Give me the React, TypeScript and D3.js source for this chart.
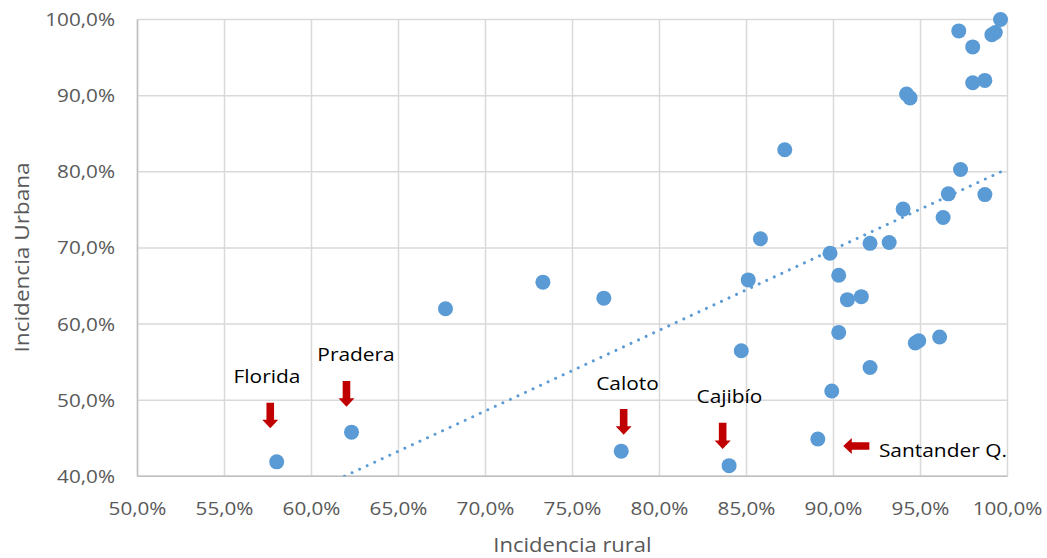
import React from "react";
import * as d3 from "d3";

// Incidencia rural (x, %) and Incidencia urbana (y, %) per municipio
const rural = [
  58.0, 62.3, 67.7, 73.3, 76.8, 77.8, 84.0, 84.7, 85.1, 85.8, 87.2, 89.1, 89.8,
  89.9, 90.3, 90.3, 90.8, 91.6, 92.1, 92.1, 93.2, 94.0, 94.2, 94.4, 94.7, 94.9,
  96.1, 96.3, 96.6, 97.2, 97.3, 98.0, 98.0, 98.7, 98.7, 99.1, 99.3, 99.6,
];
const urbana = [
  41.9, 45.8, 62.0, 65.5, 63.4, 43.3, 41.4, 56.5, 65.8, 71.2, 82.9, 44.9, 69.3,
  51.2, 66.4, 58.9, 63.2, 63.6, 70.6, 54.3, 70.7, 75.1, 90.2, 89.7, 57.5, 57.8,
  58.3, 74.0, 77.1, 98.5, 80.3, 96.4, 91.7, 92.0, 77.0, 98.0, 98.3, 100.0,
];

const xTicks = [50, 55, 60, 65, 70, 75, 80, 85, 90, 95, 100];
const yTicks = [40, 50, 60, 70, 80, 90, 100];

// Linear trendline: y = slope * x + intercept
const trendSlope = 1.06;
const trendIntercept = -25.6;

// Annotations (data coordinates)
const annLabels = ["Florida", "Pradera", "Caloto", "Cajibío", "Santander Q."];
const annTextX = [57.44, 62.56, 78.16, 84.02, 92.61];
const annTextY = [52.29, 55.15, 51.34, 49.63, 42.57];
const annAnchor = ["middle", "middle", "middle", "middle", "start"];
const arrowTailX = [57.63, 62.01, 77.94, 83.63, 92.06];
const arrowTailY = [49.67, 52.52, 48.84, 47.04, 43.98];
const arrowTipX = [57.63, 62.01, 77.94, 83.63, 90.56];
const arrowTipY = [46.31, 49.14, 45.46, 43.59, 43.98];

const W = 1047;
const H = 558;
const M = { left: 137.5, right: 1007.5, top: 19.5, bottom: 476.3 };
const FONT = "'Open Sans', sans-serif";

const fmt = (v: number) => v.toFixed(1).replace(".", ",") + "%";

function arrowPath(x0: number, y0: number, x1: number, y1: number) {
  const dx = x1 - x0;
  const dy = y1 - y0;
  const len = Math.sqrt(dx * dx + dy * dy);
  const ux = dx / len;
  const uy = dy / len;
  const px = -uy;
  const py = ux;
  const sw = 3.8;
  const hw = 8;
  const hl = 8.5;
  const bx = x1 - ux * hl;
  const by = y1 - uy * hl;
  const pts = [
    [x0 + px * sw, y0 + py * sw],
    [bx + px * sw, by + py * sw],
    [bx + px * hw, by + py * hw],
    [x1, y1],
    [bx - px * hw, by - py * hw],
    [bx - px * sw, by - py * sw],
    [x0 - px * sw, y0 - py * sw],
  ];
  return "M" + pts.map((p) => p[0].toFixed(2) + "," + p[1].toFixed(2)).join("L") + "Z";
}

export default function App() {
  const x = d3.scaleLinear().domain([50, 100]).range([M.left, M.right]);
  const y = d3.scaleLinear().domain([40, 100]).range([M.bottom, M.top]);

  const xMin = d3.min(rural) as number;
  const xMax = d3.max(rural) as number;
  const trendPts: [number, number][] = [
    [xMin, trendSlope * xMin + trendIntercept],
    [xMax, trendSlope * xMax + trendIntercept],
  ];
  const line = d3
    .line<[number, number]>()
    .x((d) => x(d[0]))
    .y((d) => y(d[1]));

  const gridColor = "#D9D9D9";
  const tickColor = "#595959";

  return (
    <svg
      width={W}
      height={H}
      style={{ position: "absolute", left: 0, top: 0, background: "#fff" }}
      fontFamily={FONT}
    >
      <defs>
        <clipPath id="plotClip">
          <rect x={M.left} y={M.top} width={M.right - M.left} height={M.bottom - M.top} />
        </clipPath>
      </defs>
      {/* grid */}
      {xTicks.map((t) => (
        <line key={"gx" + t} x1={x(t)} x2={x(t)} y1={M.top} y2={M.bottom} stroke={gridColor} strokeWidth={1.5} />
      ))}
      {yTicks.map((t) => (
        <line key={"gy" + t} x1={M.left} x2={M.right} y1={y(t)} y2={y(t)} stroke={gridColor} strokeWidth={1.5} />
      ))}
      {/* axes */}
      <line x1={M.left} x2={M.left} y1={M.top} y2={M.bottom} stroke="#BFBFBF" strokeWidth={1.5} />
      <line x1={M.left} x2={M.right} y1={M.bottom} y2={M.bottom} stroke="#BFBFBF" strokeWidth={1.5} />

      {/* tick labels */}
      {xTicks.map((t) => (
        <text
          key={"tx" + t}
          transform={`translate(${x(t)},515) scale(1.15,1)`}
          textAnchor="middle"
          fontSize={18}
          fill={tickColor}
        >
          {fmt(t)}
        </text>
      ))}
      {yTicks.map((t) => (
        <text
          key={"ty" + t}
          transform={`translate(115,${y(t) + 6.5}) scale(1.15,1)`}
          textAnchor="end"
          fontSize={18}
          fill={tickColor}
        >
          {fmt(t)}
        </text>
      ))}

      {/* axis titles */}
      <text
        transform={`translate(572.5,551.5) scale(1.1,1)`}
        textAnchor="middle"
        fontSize={20}
        fill={tickColor}
      >
        Incidencia rural
      </text>
      <text
        transform={`translate(28.5,257.5) rotate(-90) scale(1.1,1)`}
        textAnchor="middle"
        fontSize={20.5}
        fill={tickColor}
      >
        Incidencia Urbana
      </text>

      {/* trendline */}
      <g clipPath="url(#plotClip)">
        <path
          d={line(trendPts) || ""}
          fill="none"
          stroke="#5B9BD5"
          strokeWidth={3}
          strokeLinecap="round"
          strokeDasharray="0.01 8.3"
        />
      </g>

      {/* points */}
      {rural.map((rv, i) => (
        <circle key={"p" + i} cx={x(rv)} cy={y(urbana[i])} r={7.5} fill="#5B9BD5" />
      ))}

      {/* annotations */}
      {annLabels.map((lab, i) => (
        <g key={"a" + i}>
          <text
            transform={`translate(${x(annTextX[i])},${y(annTextY[i])}) scale(1.1,1)`}
            textAnchor={annAnchor[i]}
            fontSize={19}
            fill="#000"
          >
            {lab}
          </text>
          <path
            d={arrowPath(x(arrowTailX[i]), y(arrowTailY[i]), x(arrowTipX[i]), y(arrowTipY[i]))}
            fill="#C00000"
          />
        </g>
      ))}
    </svg>
  );
}
